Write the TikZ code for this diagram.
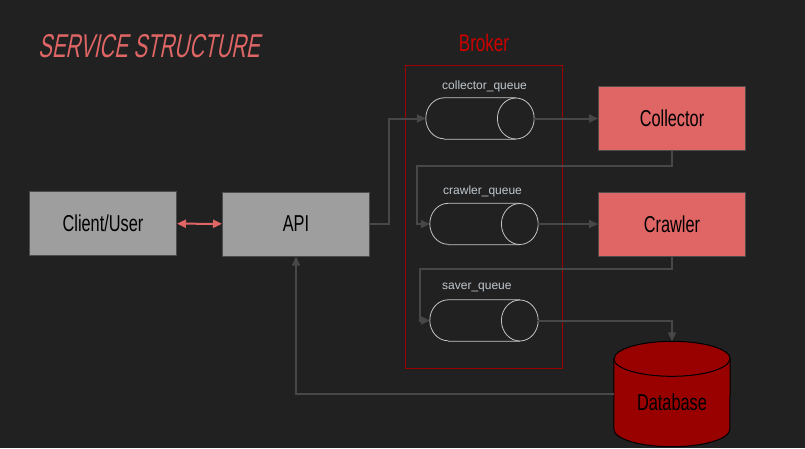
\documentclass[tikz,border=0pt]{standalone}
\usepackage{fontspec}
\setmainfont{Liberation Sans}
\newfontfamily\narrowfont[FakeStretch=0.71]{Liberation Sans}
\newfontfamily\titlefont[FakeStretch=0.62,FakeSlant=0.2]{Liberation Sans}
\usepackage{xcolor}
\definecolor{bgdark}{HTML}{212121}
\definecolor{coral}{HTML}{E06666}
\definecolor{darkred}{HTML}{990000}
\definecolor{brokerred}{HTML}{CC0000}
\definecolor{boxgray}{HTML}{9E9E9E}
\definecolor{linegray}{HTML}{474747}
\definecolor{queueline}{HTML}{C4C4C4}
\definecolor{queuetext}{HTML}{BFC8CF}
\usepackage{tikz}
\usetikzlibrary{shapes.geometric,arrows.meta,positioning}

\begin{document}
\begin{tikzpicture}[x=1pt, y=-1pt,
    service/.style={draw=black!70, line width=1pt, minimum width=147pt, minimum height=64pt, inner sep=0pt, text=black, font=\narrowfont\fontsize{23}{26}\selectfont},
    queue/.style={minimum width=108pt, minimum height=41pt, inner sep=0pt},
    queuelabel/.style={anchor=west, inner sep=0pt, text=queuetext, font=\fontsize{12}{14}\selectfont},
    flow/.style={draw=linegray, line width=2pt, -{Triangle[length=9pt,width=8pt]}}]
        \fill[bgdark] (0,0) rectangle (805,448);
        \node[anchor=base west, inner sep=0pt, text=coral, font=\titlefont\fontsize{33}{36}\selectfont] (title) at (38,57) {SERVICE STRUCTURE};

        % Broker with its three queues
        \node[draw=darkred, line width=1pt, minimum width=157pt, minimum height=303pt, inner sep=0pt] (broker) at (483.8,216.5) {};
        \node[text=brokerred, inner sep=0pt, font=\narrowfont\fontsize{24}{24}\selectfont] (brokerlabel) at (484,43) {Broker};
        \node[queue] (cq) at (480,118.5) {};
        \node[queue] (crq) at (484,224) {};
        \node[queue] (sq) at (484,320.5) {};
        \foreach \q in {cq,crq,sq} {
          \draw[queueline, line width=0.8pt] ([xshift=18.4pt]\q.north west) -- ([xshift=-18.4pt]\q.north east)
            ([xshift=18.4pt]\q.south west) -- ([xshift=-18.4pt]\q.south east)
            ([xshift=18.4pt]\q.north west) arc[start angle=90, end angle=270, x radius=18.4pt, y radius=20.5pt];
          \draw[queueline, line width=0.8pt] ([xshift=-18.4pt]\q.east) ellipse[x radius=18.4pt, y radius=20.5pt];
        }
        \node[queuelabel] (cqlabel) at (442,86) {collector\_queue};
        \node[queuelabel] (crqlabel) at (443,191) {crawler\_queue};
        \node[queuelabel] (sqlabel) at (442,288) {saver\_queue};

        % Services
        \node[service, fill=boxgray] (client) at (103,223.5) {Client/User};
        \node[service, fill=boxgray] (api) at (296,224) {API};
        \node[service, fill=coral] (collector) at (672,118.5) {Collector};
        \node[service, fill=coral] (crawler) at (672,224) {Crawler};

        % Database
        \node[minimum width=116pt, minimum height=105pt, inner sep=0pt] (db) at (672,394) {};
        \draw[black, line width=1pt, fill=darkred] ([yshift=-17.5pt]db.north west) -- ([yshift=17.5pt]db.south west)
          arc[start angle=180, end angle=360, x radius=58pt, y radius=17.5pt] -- ([yshift=-17.5pt]db.north east)
          arc[start angle=0, end angle=180, x radius=58pt, y radius=17.5pt] -- cycle;
        \draw[black, line width=1pt] ([yshift=-17.5pt]db.north west) arc[start angle=180, end angle=360, x radius=58pt, y radius=17.5pt];
        \node[text=black, inner sep=0pt, font=\narrowfont\fontsize{23}{26}\selectfont] (dblabel) at (672,402) {Database};

        % Flows
        \coordinate (turnA) at (417,166);
        \coordinate (turnB) at (420,268.7);
        \draw[line width=2pt, coral, {Triangle[length=9pt,width=8pt]}-{Triangle[length=9pt,width=8pt]}] (client) -- (api);
        \draw[flow] (api.east) -- ++(19,0) |- (cq.west);
        \draw[flow] (cq.east) -- (collector.west);
        \draw[flow] (collector.south) |- (turnA) |- (crq.west);
        \draw[flow] (crq.east) -- (crawler.west);
        \draw[flow] (crawler.south) |- (turnB) |- (sq.west);
        \draw[flow] (sq.east) -| (db.north);
        \draw[flow] (db.west) -| (api.south);
\end{tikzpicture}
\end{document}
